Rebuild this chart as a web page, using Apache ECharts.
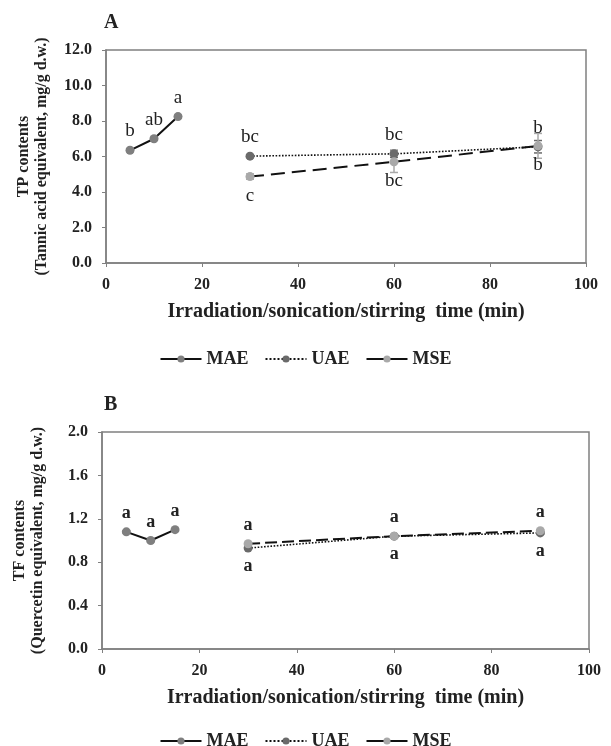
<!DOCTYPE html>
<html>
<head>
<meta charset="utf-8">
<script src="https://cdn.jsdelivr.net/npm/echarts@6/dist/echarts.min.js"></script>
<style>
html, body { margin: 0; background: #fff; }
#chart { width: 611px; height: 746px; }
</style>
</head>
<body>
<div id="chart"></div>
<script>
// times (min)
const timeMAE = [5, 10, 15];
const timeLong = [30, 60, 90];

// panel A - TP contents
const tpMAE = [6.35, 7.0, 8.25];
const tpUAE = [6.02, 6.15, 6.55];
const tpMSE = [4.87, 5.7, 6.6];
const tpErrMAE = [0.08, 0.08, 0.08];
const tpErrUAE = [0.08, 0.2, 0.35];
const tpErrMSE = [0.15, 0.6, 0.7];
const tpLetMAE = ['b', 'ab', 'a'];
const tpLetUAE = ['bc', 'bc', 'b'];
const tpLetMSE = ['c', 'bc', 'b'];

// panel B - TF contents
const tfMAE = [1.08, 1.0, 1.1];
const tfUAE = [0.93, 1.04, 1.07];
const tfMSE = [0.97, 1.04, 1.09];
const tfErrMAE = [0.01, 0.01, 0.01];
const tfErrUAE = [0.01, 0.01, 0.01];
const tfErrMSE = [0.01, 0.01, 0.01];
const tfLetMAE = ['a', 'a', 'a'];
const tfLetUAE = ['a', 'a', 'a'];
const tfLetMSE = ['a', 'a', 'a'];

const serif = 'Liberation Serif';
const colMAE = '#7f7f7f';
const colUAE = '#6a6a6a';
const colMSE = '#a9a9a9';

function pts(xs, ys) { return xs.map((x, i) => [x, ys[i]]); }
function errData(xs, ys, es) { return xs.map((x, i) => [x, ys[i] - es[i], ys[i] + es[i]]); }

function lineSeries(name, idx, xs, ys, letters, color, lineType, pos) {
    return {
        name: name,
        type: 'line',
        xAxisIndex: idx,
        yAxisIndex: idx,
        data: pts(xs, ys),
        symbol: 'circle',
        symbolSize: 9,
        itemStyle: { color: color },
        lineStyle: { color: '#111', width: lineType === 'dotted' ? 1.6 : 2, type: lineType },
        label: {
            show: true,
            position: pos,
            distance: 5,
            fontFamily: serif,
            fontSize: idx === 0 ? 19 : 18,
            fontWeight: idx === 0 ? 'normal' : 'bold',
            color: '#222',
            formatter: p => letters[p.dataIndex]
        },
        z: 3
    };
}

// error bars drawn with the axis scales
function errSeries(name, idx, xs, ys, es, color) {
    return {
        name: 'err' + name,
        type: 'custom',
        xAxisIndex: idx,
        yAxisIndex: idx,
        data: errData(xs, ys, es),
        renderItem: (params, api) => {
            const lo = api.coord([api.value(0), api.value(1)]);
            const hi = api.coord([api.value(0), api.value(2)]);
            const w = 4;
            const style = { stroke: color, lineWidth: 1.5 };
            return {
                type: 'group',
                children: [
                    { type: 'line', shape: { x1: lo[0], y1: lo[1], x2: hi[0], y2: hi[1] }, style: style },
                    { type: 'line', shape: { x1: lo[0] - w, y1: lo[1], x2: lo[0] + w, y2: lo[1] }, style: style },
                    { type: 'line', shape: { x1: hi[0] - w, y1: hi[1], x2: hi[0] + w, y2: hi[1] }, style: style }
                ]
            };
        },
        z: 2
    };
}

function xAx(idx) {
    return {
        type: 'value',
        gridIndex: idx,
        min: 0, max: 100, interval: 20,
        name: 'Irradiation/sonication/stirring  time (min)',
        nameLocation: 'middle',
        nameGap: 39,
        nameTextStyle: { fontFamily: serif, fontWeight: 'bold', fontSize: 20, color: '#222' },
        axisLine: { show: true, lineStyle: { color: '#808080', width: 1.5 } },
        axisTick: { show: true, length: 4, lineStyle: { color: '#808080' } },
        axisLabel: { fontFamily: serif, fontWeight: 'bold', fontSize: 16, color: '#222', margin: 14 },
        splitLine: { show: false }
    };
}

function yAx(idx, max, step, name) {
    return {
        type: 'value',
        gridIndex: idx,
        min: 0, max: max, interval: step,
        name: name,
        nameLocation: 'middle',
        nameRotate: 90,
        nameGap: 55,
        nameTextStyle: { fontFamily: serif, fontWeight: 'bold', fontSize: 16, color: '#222', lineHeight: 18 },
        axisLine: { show: true, lineStyle: { color: '#808080', width: 1.5 } },
        axisTick: { show: true, length: 4, lineStyle: { color: '#808080' } },
        axisLabel: { fontFamily: serif, fontWeight: 'bold', fontSize: 16, color: '#222', margin: 14,
            formatter: v => v.toFixed(1) },
        splitLine: { show: false }
    };
}

function legendAt(top) {
    return {
        top: top,
        left: 'center',
        itemWidth: 41,
        itemHeight: 9,
        itemGap: 16,
        textStyle: { fontFamily: serif, fontWeight: 'bold', fontSize: 18, color: '#222' },
        data: ['MAE', 'UAE', { name: 'MSE', lineStyle: { type: 'solid' } }]
    };
}

const chart = echarts.init(document.getElementById('chart'));
chart.setOption({
    backgroundColor: '#fff',
    animation: false,
    graphic: [
        { type: 'text', left: 104, top: 13, style: { text: 'A', font: 'bold 20px "Liberation Serif"', fill: '#222' } },
        { type: 'text', left: 104, top: 395, style: { text: 'B', font: 'bold 20px "Liberation Serif"', fill: '#222' } }
    ],
    grid: [
        { left: 106, top: 50, width: 480, height: 213, show: true, borderColor: '#808080', borderWidth: 1.5 },
        { left: 102, top: 432, width: 487, height: 217, show: true, borderColor: '#808080', borderWidth: 1.5 }
    ],
    legend: [legendAt(345), legendAt(727)],
    xAxis: [xAx(0), xAx(1)],
    yAxis: [
        yAx(0, 12, 2, 'TP contents\n(Tannic acid equivalent, mg/g d.w.)'),
        yAx(1, 2, 0.4, 'TF contents\n(Quercetin equivalent, mg/g d.w.)')
    ],
    series: [
        errSeries('MAE', 0, timeMAE, tpMAE, tpErrMAE, colMAE),
        errSeries('UAE', 0, timeLong, tpUAE, tpErrUAE, colUAE),
        errSeries('MSE', 0, timeLong, tpMSE, tpErrMSE, colMSE),
        lineSeries('MAE', 0, timeMAE, tpMAE, tpLetMAE, colMAE, 'solid', 'top'),
        lineSeries('UAE', 0, timeLong, tpUAE, tpLetUAE, colUAE, 'dotted', 'top'),
        lineSeries('MSE', 0, timeLong, tpMSE, tpLetMSE, colMSE, [14, 7], 'bottom'),

        errSeries('MAE', 1, timeMAE, tfMAE, tfErrMAE, colMAE),
        errSeries('UAE', 1, timeLong, tfUAE, tfErrUAE, colUAE),
        errSeries('MSE', 1, timeLong, tfMSE, tfErrMSE, colMSE),
        lineSeries('MAE', 1, timeMAE, tfMAE, tfLetMAE, colMAE, 'solid', 'top'),
        lineSeries('UAE', 1, timeLong, tfUAE, tfLetUAE, colUAE, 'dotted', 'bottom'),
        lineSeries('MSE', 1, timeLong, tfMSE, tfLetMSE, colMSE, [12, 5], 'top')
    ]
});
</script>
</body>
</html>
